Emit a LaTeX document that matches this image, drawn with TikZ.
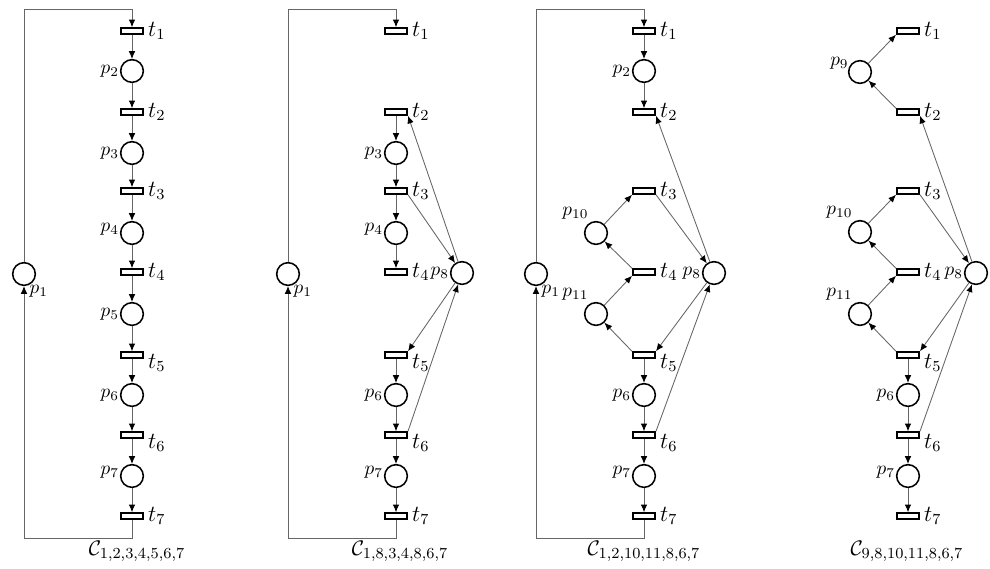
\documentclass[tikz,border=0pt]{standalone}
\usepackage{amsmath,amssymb}
\usetikzlibrary{arrows.meta, positioning}

\begin{document}
\begin{tikzpicture}[x=0.0183cm, y=-0.0183cm,
    >={Latex[length=4pt, width=3.4pt, color=black]},
    place/.style={circle, draw, line width=0.8pt, minimum size=11.8pt, inner sep=0pt},
    trans/.style={rectangle, draw, line width=0.8pt, minimum width=11.7pt, minimum height=3.1pt, inner sep=0pt},
    arc/.style={->, draw=black!60, line width=0.45pt},
    plab/.style={font=\normalsize, inner sep=0.3pt},
    tlab/.style={font=\large, inner sep=1pt},
    caption/.style={font=\fontsize{11}{13}\selectfont}]
    \useasboundingbox (0,0) rectangle (990,569);

    % Mạng thứ nhất
    \node[place] (p1a) at (24,274) {};
    \node[plab, below right=1pt and -2pt of p1a] (lp1a) {$p_1$};
    \node[trans] (t1a) at (132,31) {};
    \node[place] (p2a) at (132,71) {};
    \node[trans] (t2a) at (132,112) {};
    \node[place] (p3a) at (132,153) {};
    \node[trans] (t3a) at (132,191) {};
    \node[place] (p4a) at (132,233) {};
    \node[trans] (t4a) at (132,272) {};
    \node[place] (p5a) at (132,314) {};
    \node[trans] (t5a) at (132,355) {};
    \node[place] (p6a) at (132,395) {};
    \node[trans] (t6a) at (132,435) {};
    \node[place] (p7a) at (132,476) {};
    \node[trans] (t7a) at (132,516) {};
    \node[tlab, right=1pt of t1a] (lt1a) {$t_1$};
    \node[tlab, right=1pt of t2a] (lt2a) {$t_2$};
    \node[tlab, right=1pt of t3a] (lt3a) {$t_3$};
    \node[tlab, right=1pt of t4a] (lt4a) {$t_4$};
    \node[tlab, right=1pt of t5a, yshift=-4pt] (lt5a) {$t_5$};
    \node[tlab, right=1pt of t6a, yshift=-4pt] (lt6a) {$t_6$};
    \node[tlab, right=1pt of t7a] (lt7a) {$t_7$};
    \node[plab, left=0pt of p2a] (lp2a) {$p_2$};
    \node[plab, left=0pt of p3a] (lp3a) {$p_3$};
    \node[plab, left=0pt of p4a, yshift=2pt] (lp4a) {$p_4$};
    \node[plab, left=0pt of p5a] (lp5a) {$p_5$};
    \node[plab, left=0pt of p6a] (lp6a) {$p_6$};
    \node[plab, left=0pt of p7a, yshift=2pt] (lp7a) {$p_7$};
    \coordinate (topa) at (132,9);
    \coordinate (bota) at (132,538);
    \draw[arc] (t1a) -- (p2a);
    \draw[arc] (p2a) -- (t2a);
    \draw[arc] (t2a) -- (p3a);
    \draw[arc] (p3a) -- (t3a);
    \draw[arc] (t3a) -- (p4a);
    \draw[arc] (p4a) -- (t4a);
    \draw[arc] (t4a) -- (p5a);
    \draw[arc] (p5a) -- (t5a);
    \draw[arc] (t5a) -- (p6a);
    \draw[arc] (p6a) -- (t6a);
    \draw[arc] (t6a) -- (p7a);
    \draw[arc] (p7a) -- (t7a);
    \draw[arc] (t7a) -- (bota) -| (p1a);
    \draw[arc] (p1a) |- (topa) -- (t1a);
    \node[caption] (capa) at (137,551) {$\mathcal{C}_{1,2,3,4,5,6,7}$};

    % Mạng thứ hai
    \node[place] (p1b) at (288,274) {};
    \node[plab, below right=1pt and -2pt of p1b] (lp1b) {$p_1$};
    \node[trans] (t1b) at (396,31) {};
    \node[trans] (t2b) at (396,112) {};
    \node[place] (p3b) at (396,153) {};
    \node[trans] (t3b) at (396,191) {};
    \node[place] (p4b) at (396,233) {};
    \node[trans] (t4b) at (396,272) {};
    \node[place] (p8b) at (462,273) {};
    \node[trans] (t5b) at (396,355) {};
    \node[place] (p6b) at (396,395) {};
    \node[trans] (t6b) at (396,435) {};
    \node[place] (p7b) at (396,476) {};
    \node[trans] (t7b) at (396,516) {};
    \node[tlab, right=1pt of t1b] (lt1b) {$t_1$};
    \node[tlab, right=1pt of t2b] (lt2b) {$t_2$};
    \node[tlab, right=1pt of t3b] (lt3b) {$t_3$};
    \node[tlab, right=1pt of t4b] (lt4b) {$t_4$};
    \node[tlab, right=1pt of t5b, yshift=-4pt] (lt5b) {$t_5$};
    \node[tlab, right=1pt of t6b, yshift=-4pt] (lt6b) {$t_6$};
    \node[tlab, right=1pt of t7b] (lt7b) {$t_7$};
    \node[plab, left=0pt of p3b] (lp3b) {$p_3$};
    \node[plab, left=0pt of p4b, yshift=2pt] (lp4b) {$p_4$};
    \node[plab, left=0pt of p8b] (lp8b) {$p_8$};
    \node[plab, left=0pt of p6b] (lp6b) {$p_6$};
    \node[plab, left=0pt of p7b, yshift=2pt] (lp7b) {$p_7$};
    \coordinate (topb) at (396,9);
    \coordinate (botb) at (396,538);
    \draw[arc] (t2b) -- (p3b);
    \draw[arc] (p3b) -- (t3b);
    \draw[arc] (t3b) -- (p4b);
    \draw[arc] (p4b) -- (t4b);
    \draw[arc] (t3b.south east) -- (p8b);
    \draw[arc] (p8b) -- (t2b.south east);
    \draw[arc] (p8b) -- (t5b.north east);
    \draw[arc] (t6b.north east) -- (p8b);
    \draw[arc] (t5b) -- (p6b);
    \draw[arc] (p6b) -- (t6b);
    \draw[arc] (t6b) -- (p7b);
    \draw[arc] (p7b) -- (t7b);
    \draw[arc] (t7b) -- (botb) -| (p1b);
    \draw[arc] (p1b) |- (topb) -- (t1b);
    \node[caption] (capb) at (400,551) {$\mathcal{C}_{1,8,3,4,8,6,7}$};

    % Mạng thứ ba
    \node[place] (p1c) at (536,274) {};
    \node[plab, below right=1pt and -2pt of p1c] (lp1c) {$p_1$};
    \node[trans] (t1c) at (644,31) {};
    \node[place] (p2c) at (644,71) {};
    \node[trans] (t2c) at (644,112) {};
    \node[trans] (t3c) at (644,191) {};
    \node[place] (p10c) at (596,233) {};
    \node[trans] (t4c) at (644,272) {};
    \node[place] (p11c) at (596,314) {};
    \node[place] (p8c) at (714,273) {};
    \node[trans] (t5c) at (644,355) {};
    \node[place] (p6c) at (644,395) {};
    \node[trans] (t6c) at (644,435) {};
    \node[place] (p7c) at (644,476) {};
    \node[trans] (t7c) at (644,516) {};
    \node[tlab, right=1pt of t1c] (lt1c) {$t_1$};
    \node[tlab, right=1pt of t2c] (lt2c) {$t_2$};
    \node[tlab, right=1pt of t3c] (lt3c) {$t_3$};
    \node[tlab, right=1pt of t4c] (lt4c) {$t_4$};
    \node[tlab, right=1pt of t5c, yshift=-4pt] (lt5c) {$t_5$};
    \node[tlab, right=1pt of t6c, yshift=-4pt] (lt6c) {$t_6$};
    \node[tlab, right=1pt of t7c] (lt7c) {$t_7$};
    \node[plab, left=0pt of p2c] (lp2c) {$p_2$};
    \node[plab, above left=2pt and -1pt of p10c] (lp10c) {$p_{10}$};
    \node[plab, above left=2pt and -1pt of p11c] (lp11c) {$p_{11}$};
    \node[plab, left=0pt of p8c] (lp8c) {$p_8$};
    \node[plab, left=0pt of p6c] (lp6c) {$p_6$};
    \node[plab, left=0pt of p7c, yshift=2pt] (lp7c) {$p_7$};
    \coordinate (topc) at (644,9);
    \coordinate (botc) at (644,538);
    \draw[arc] (t1c) -- (p2c);
    \draw[arc] (p2c) -- (t2c);
    \draw[arc] (p8c) -- (t2c.south east);
    \draw[arc] (p10c) -- (t3c.south west);
    \draw[arc] (t3c.south east) -- (p8c);
    \draw[arc] (t4c.north west) -- (p10c);
    \draw[arc] (p11c) -- (t4c.south west);
    \draw[arc] (t5c.north west) -- (p11c);
    \draw[arc] (p8c) -- (t5c.north east);
    \draw[arc] (t6c.north east) -- (p8c);
    \draw[arc] (t5c) -- (p6c);
    \draw[arc] (p6c) -- (t6c);
    \draw[arc] (t6c) -- (p7c);
    \draw[arc] (p7c) -- (t7c);
    \draw[arc] (t7c) -- (botc) -| (p1c);
    \draw[arc] (p1c) |- (topc) -- (t1c);
    \node[caption] (capc) at (644,551) {$\mathcal{C}_{1,2,10,11,8,6,7}$};

    % Mạng thứ tư
    \node[trans] (t1d) at (908,31) {};
    \node[place] (p9d) at (860,72) {};
    \node[trans] (t2d) at (908,112) {};
    \node[trans] (t3d) at (908,191) {};
    \node[place] (p10d) at (860,232) {};
    \node[trans] (t4d) at (908,272) {};
    \node[place] (p11d) at (860,314) {};
    \node[place] (p8d) at (976,273) {};
    \node[trans] (t5d) at (908,355) {};
    \node[place] (p6d) at (908,395) {};
    \node[trans] (t6d) at (908,435) {};
    \node[place] (p7d) at (908,476) {};
    \node[trans] (t7d) at (908,516) {};
    \node[tlab, right=1pt of t1d] (lt1d) {$t_1$};
    \node[tlab, right=1pt of t2d] (lt2d) {$t_2$};
    \node[tlab, right=1pt of t3d] (lt3d) {$t_3$};
    \node[tlab, right=1pt of t4d] (lt4d) {$t_4$};
    \node[tlab, right=1pt of t5d, yshift=-4pt] (lt5d) {$t_5$};
    \node[tlab, right=1pt of t6d, yshift=-4pt] (lt6d) {$t_6$};
    \node[tlab, right=1pt of t7d] (lt7d) {$t_7$};
    \node[plab, left=1pt of p9d.north west] (lp9d) {$p_9$};
    \node[plab, above left=2pt and -1pt of p10d] (lp10d) {$p_{10}$};
    \node[plab, above left=2pt and -1pt of p11d] (lp11d) {$p_{11}$};
    \node[plab, left=0pt of p8d] (lp8d) {$p_8$};
    \node[plab, left=0pt of p6d] (lp6d) {$p_6$};
    \node[plab, left=0pt of p7d, yshift=2pt] (lp7d) {$p_7$};
    \draw[arc] (p9d) -- (t1d.south west);
    \draw[arc] (t2d.north west) -- (p9d);
    \draw[arc] (p8d) -- (t2d.south east);
    \draw[arc] (p10d) -- (t3d.south west);
    \draw[arc] (t3d.south east) -- (p8d);
    \draw[arc] (t4d.north west) -- (p10d);
    \draw[arc] (p11d) -- (t4d.south west);
    \draw[arc] (t5d.north west) -- (p11d);
    \draw[arc] (p8d) -- (t5d.north east);
    \draw[arc] (t6d.north east) -- (p8d);
    \draw[arc] (t5d) -- (p6d);
    \draw[arc] (p6d) -- (t6d);
    \draw[arc] (t6d) -- (p7d);
    \draw[arc] (p7d) -- (t7d);
    \node[caption] (capd) at (907,551) {$\mathcal{C}_{9,8,10,11,8,6,7}$};
\end{tikzpicture}
\end{document}
